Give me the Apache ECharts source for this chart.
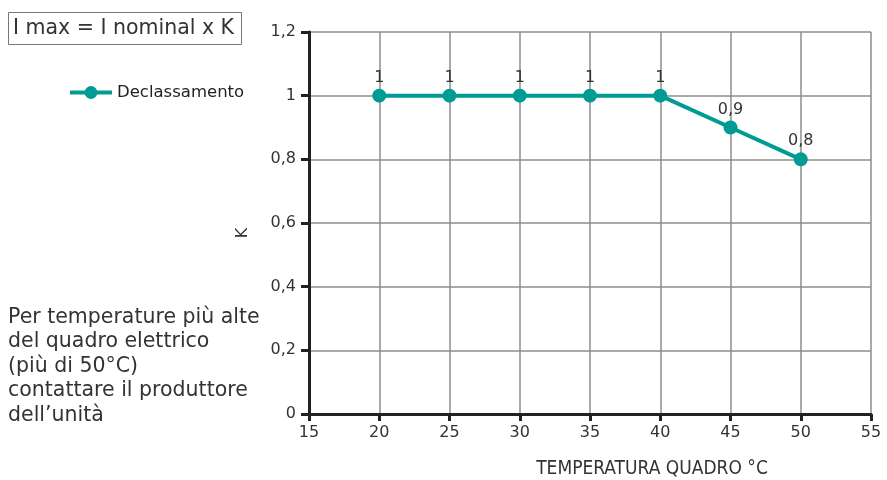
<!DOCTYPE html>
<html><head><meta charset="utf-8">
<script src="https://cdn.jsdelivr.net/npm/echarts@6/dist/echarts.min.js"></script>
<style>html,body{margin:0;padding:0;background:#fff}#c{width:887px;height:480px}</style>
</head><body><div id="c"></div>
<script>
const temperatures = [20, 25, 30, 35, 40, 45, 50];
const kValues = [1, 1, 1, 1, 1, 0.9, 0.8];
const seriesName = 'Declassamento';
const xTitle = 'TEMPERATURA QUADRO °C';
const yTitle = 'K';
const formulaText = 'I max = I nominal x K';
const noteLines = ['Per temperature più alte', 'del quadro elettrico', '(più di 50°C)', 'contattare il produttore', 'dell’unità'];

const font = 'Verdana, "DejaVu Sans", sans-serif';
const condFont = '"DejaVu Sans Condensed", "DejaVu Sans", sans-serif';
const fmt = v => String(Math.round(v*10)/10).replace('.', ',');
const chart = echarts.init(document.getElementById('c'));
chart.setOption({
  animation: false,
  textStyle: {fontFamily: font},
  grid: {left: 309, right: 16, top: 32, bottom: 66, containLabel: false},
  legend: {
    data: [seriesName], left: 63, top: 79, itemWidth: 42, itemHeight: 16, itemGap: 5,
    lineStyle: {width: 4},
    textStyle: {fontFamily: font, fontSize: 16.5, color: '#222'}
  },
  xAxis: {
    type: 'value', min: 15, max: 55, interval: 5,
    axisLine: {onZero: false, lineStyle: {color: '#222', width: 3}},
    axisTick: {show: true, length: 7, lineStyle: {color: '#222', width: 3}},
    axisLabel: {fontFamily: font, fontSize: 16, color: '#333', margin: 11},
    splitLine: {show: true, lineStyle: {color: '#8c8c8c', width: 1.5}}
  },
  yAxis: {
    type: 'value', min: 0, max: 1.2, interval: 0.2,
    axisLine: {show: true, lineStyle: {color: '#222', width: 3}},
    axisTick: {show: true, length: 8, lineStyle: {color: '#222', width: 3}},
    axisLabel: {fontFamily: font, fontSize: 16, color: '#333', margin: 13, formatter: fmt},
    splitLine: {show: true, lineStyle: {color: '#8c8c8c', width: 1.5}}
  },
  series: [{
    name: seriesName, type: 'line',
    data: temperatures.map((t, i) => [t, kValues[i]]),
    symbol: 'circle', symbolSize: 14,
    lineStyle: {color: '#009b93', width: 4},
    itemStyle: {color: '#009b93'},
    label: {show: true, position: 'top', distance: 3, fontFamily: font, fontSize: 16, color: '#333',
      formatter: p => fmt(p.value[1])}
  }],
  graphic: [
    {type: 'rect', left: 8, top: 12, shape: {width: 233, height: 32},
      style: {fill: '#fff', stroke: '#777', lineWidth: 1}},
    {type: 'text', left: 13, top: 18, style: {text: formulaText, font: '20.5px ' + font, fill: '#333'}},
    {type: 'text', left: 8, top: 305, style: {text: noteLines.join('\n'), font: '20.5px ' + font, lineHeight: 24.5, fill: '#333'}},
    {type: 'text', x: 652, y: 469, style: {text: xTitle, font: '19px ' + condFont, fill: '#333', align: 'center', verticalAlign: 'middle'}},
    {type: 'text', x: 243, y: 233, rotation: Math.PI / 2, style: {text: yTitle, font: '16px ' + font, fill: '#333', align: 'center', verticalAlign: 'middle'}}
  ]
});
</script></body></html>
